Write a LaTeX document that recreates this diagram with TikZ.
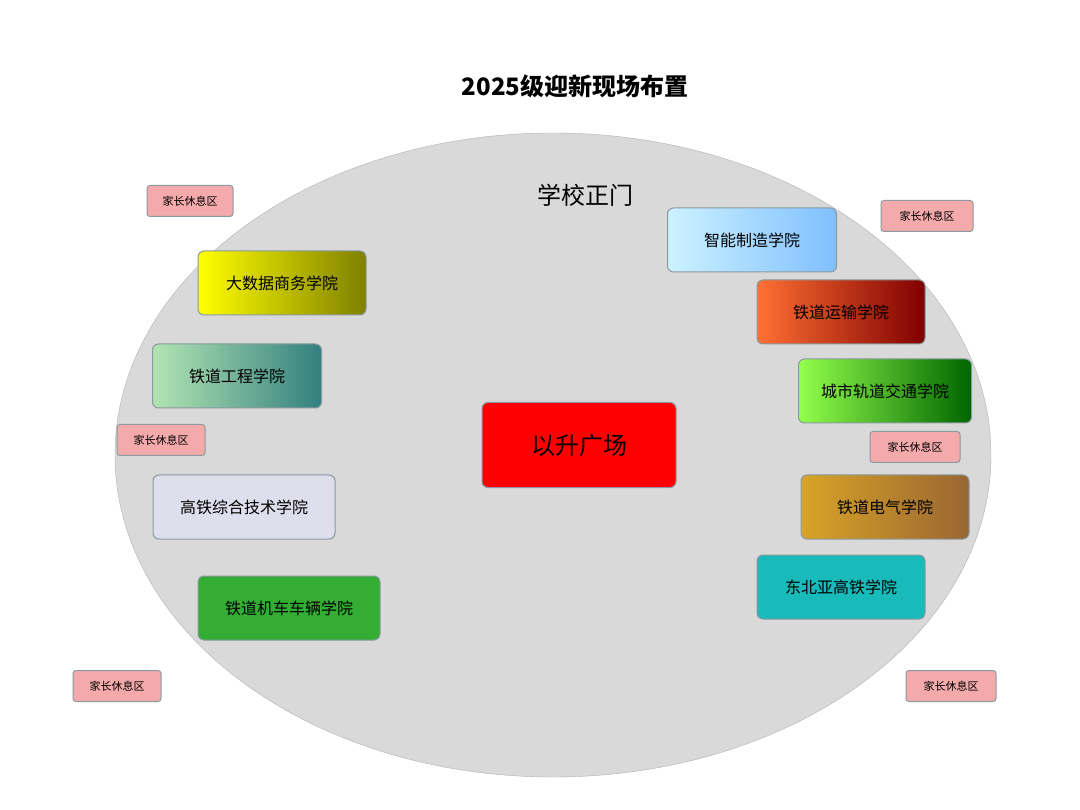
\documentclass[tikz,border=0pt]{standalone}
\usepackage{fontspec}
\setmainfont{Noto Sans CJK SC}
\usetikzlibrary{shadings,shapes.geometric}
\definecolor{bd}{HTML}{8A9AA0}
\tikzset{
 box/.style={draw=bd,line width=1pt,rounded corners=6pt,minimum height=64pt,text=black,font=\fontsize{16}{18}\selectfont},
 rest/.style={draw=bd,line width=1pt,rounded corners=3pt,minimum width=88pt,minimum height=31pt,font=\fontsize{11}{13}\selectfont},
}
\definecolor{restc}{HTML}{F4AAAA}
\begin{document}
\begin{tikzpicture}[x=1pt,y=-1pt]
\useasboundingbox (0,0) rectangle (1080,810);
\fill[white] (0,0) rectangle (1080,810);
\node (ell) [ellipse,draw=gray!60,fill=black!15,minimum width=876pt,minimum height=644pt] at (553,455) {};
\node (title) at (575,86) {\fontsize{24}{28}\selectfont\bfseries 2025级迎新现场布置};
\node (gate) at (585,195) {\fontsize{24}{28}\selectfont 学校正门};
\node (c1) [box,minimum width=168pt,left color=yellow,right color=yellow!50!black] at (282,283) {大数据商务学院};
\node (c2) [box,minimum width=169pt,left color=black!35!green!30!white,right color=teal!60!gray] at (237,376) {铁道工程学院};
\node (c3) [box,minimum width=182pt,fill=blue!30!gray!20!white] at (244,507) {高铁综合技术学院};
\node (c4) [box,minimum width=182pt,fill=green!60!black!80!white] at (289,608) {铁道机车车辆学院};
\node (sq) [box,minimum width=194pt,minimum height=85pt,fill=red,font=\fontsize{24}{28}\selectfont] at (579,445) {以升广场};
\node (c5) [box,minimum width=169pt,left color=blue!25!cyan!20!white,right color=cyan!50!blue!50!white] at (752,240) {智能制造学院};
\node (c6) [box,minimum width=168pt,left color=orange!60!red!80!white,right color=red!50!black] at (841,312) {铁道运输学院};
\node (c7) [box,minimum width=173pt,left color=green!60!yellow!70!white,right color=green!40!black] at (885,391) {城市轨道交通学院};
\node (c8) [box,minimum width=168pt,left color=orange!60!yellow!70!gray,right color=brown!80!black] at (885,507) {铁道电气学院};
\node (c9) [box,minimum width=168pt,fill=teal!60!cyan!90!white] at (841,587) {东北亚高铁学院};
\node (r1) [rest,fill=restc,minimum width=86pt] at (190,201) {家长休息区};
\node (r2) [rest,fill=restc,minimum width=92pt] at (927,216) {家长休息区};
\node (r3) [rest,fill=restc] at (161,440) {家长休息区};
\node (r4) [rest,fill=restc,minimum width=90pt] at (915,447) {家长休息区};
\node (r5) [rest,fill=restc] at (117,686) {家长休息区};
\node (r6) [rest,fill=restc,minimum width=90pt] at (951,686) {家长休息区};
\end{tikzpicture}
\end{document}
